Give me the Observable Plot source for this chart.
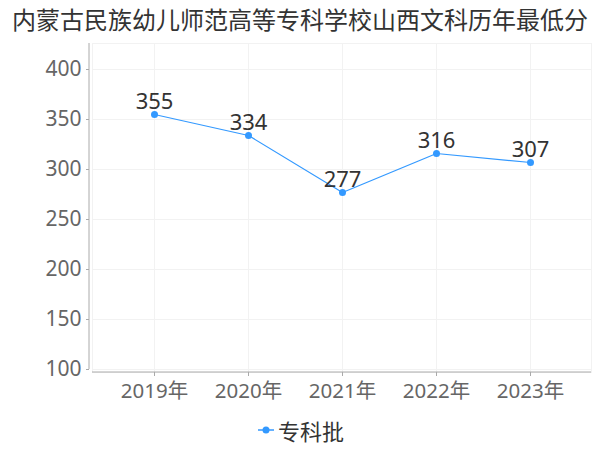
<!DOCTYPE html>
<html>
<head>
<meta charset="utf-8">
<script src="https://cdn.jsdelivr.net/npm/d3@7"></script>
<script src="https://cdn.jsdelivr.net/npm/@observablehq/plot@0.6"></script>
<style>
  html, body { margin: 0; padding: 0; background: #fff; }
  body { width: 600px; height: 450px; overflow: hidden; font-family: "Noto Sans", "Noto Sans CJK SC", sans-serif; }
  #title { height: 40px; line-height: 37px; text-align: center; font-size: 24px; color: #333; font-family: "Noto Sans CJK SC", sans-serif; white-space: nowrap; }
  #legend { height: 40px; display: flex; justify-content: center; align-items: center; gap: 4px; font-size: 22px; color: #333; font-family: "Noto Sans CJK SC", sans-serif; padding-left: 2px; }
  #legend svg { display: block; }
</style>
</head>
<body>
<div id="title">内蒙古民族幼儿师范高等专科学校山西文科历年最低分</div>
<div id="chart"></div>
<div id="legend"></div>
<script>
const title = "内蒙古民族幼儿师范高等专科学校山西文科历年最低分";
const years = ["2019年", "2020年", "2021年", "2022年", "2023年"];
const scores = [355, 334, 277, 316, 307];
const seriesName = "专科批";
const yTicks = [100, 150, 200, 250, 300, 350, 400];

const color = "#3399ff";
const data = years.map((year, i) => ({year, score: scores[i]}));

const axisLines = (index, scales, values, dims) => {
  const g = d3.create("svg:g");
  const left = dims.marginLeft, right = dims.width - dims.marginRight;
  const bottom = dims.height - dims.marginBottom, top = dims.marginTop;
  g.append("line").attr("x1", left - 3).attr("x2", left - 3)
    .attr("y1", top).attr("y2", scales.y(100))
    .attr("stroke", "#aaa").attr("stroke-width", 1);
  g.append("line").attr("x1", left).attr("x2", right)
    .attr("y1", bottom).attr("y2", bottom)
    .attr("stroke", "#aaa").attr("stroke-width", 1);
  return g.node();
};

const chart = Plot.plot({
  width: 600,
  height: 370,
  marginTop: 3,
  marginLeft: 92,
  marginRight: 9,
  marginBottom: 38,
  style: {fontFamily: '"Noto Sans", "Noto Sans CJK SC", sans-serif', background: "#fff"},
  x: {type: "point", domain: years, padding: 0.634},
  y: {domain: [97, 426]},
  marks: [
    Plot.frame({stroke: "#f2f2f2"}),
    Plot.gridY(yTicks, {stroke: "#f2f2f2", strokeOpacity: 1}),
    Plot.gridX(years, {stroke: "#f2f2f2", strokeOpacity: 1}),
    axisLines,
    Plot.axisY(yTicks, {dx: -3, tickSize: 3, tickPadding: 5, fontSize: 21, fill: "#666", stroke: "#aaa", label: null}),
    Plot.axisX(years, {tickSize: 4, tickPadding: 7, fontSize: 20.5, fill: "#666", stroke: "#aaa", label: null}),
    Plot.line(data, {x: "year", y: "score", stroke: color, strokeWidth: 1.2}),
    Plot.dot(data, {x: "year", y: "score", fill: color, r: 3.5}),
    Plot.text(data, {x: "year", y: "score", text: d => String(d.score), dy: -13, fontSize: 22, fill: "#333"})
  ]
});
document.getElementById("chart").appendChild(chart);

const legend = document.getElementById("legend");
const mk = d3.create("svg").attr("width", 16).attr("height", 10);
mk.append("line").attr("x1", 0).attr("x2", 16).attr("y1", 5).attr("y2", 5).attr("stroke", color).attr("stroke-width", 1.5);
mk.append("circle").attr("cx", 8).attr("cy", 5).attr("r", 3.5).attr("fill", color);
legend.appendChild(mk.node());
const lt = document.createElement("span");
lt.textContent = seriesName;
legend.appendChild(lt);
</script>
</body>
</html>
